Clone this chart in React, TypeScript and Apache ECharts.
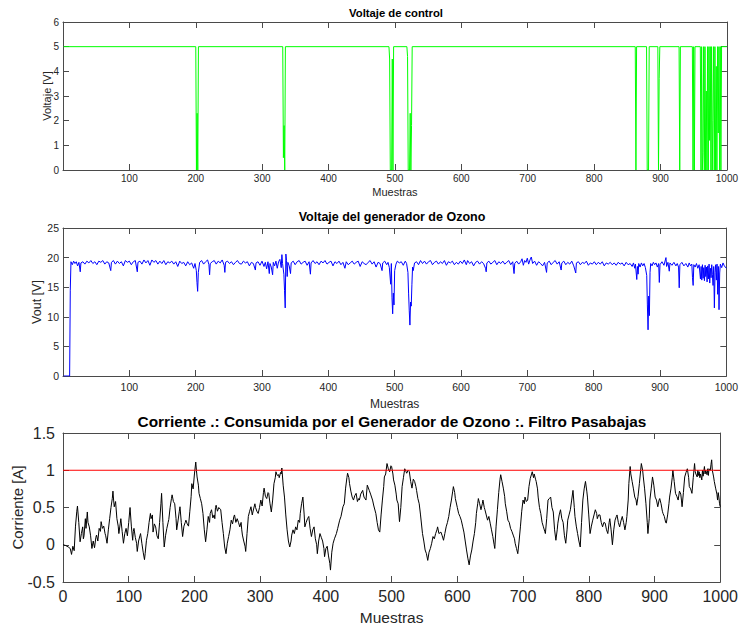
import React, { useEffect, useRef } from "react";
import * as echarts from "echarts";

const FONT = "'Liberation Sans', Arial, Helvetica, sans-serif";

const titles = [
  "Voltaje de control",
  "Voltaje del generador de Ozono",
  "Corriente .: Consumida por el Generador de Ozono :. Filtro Pasabajas",
];
const yNames = ["Voltaje [V]", "Vout [V]", "Corriente [A]"];
const xName = "Muestras";

const xTicks = [0, 100, 200, 300, 400, 500, 600, 700, 800, 900, 1000];
const yTicksControl = [0, 1, 2, 3, 4, 5, 6];
const yTicksVout = [0, 5, 10, 15, 20, 25];
const yTicksCurrent = [-0.5, 0, 0.5, 1, 1.5];

const currentLimit = 1;

const controlPoints: number[][] = [
  [1, 5], [200, 5], [201, 0], [202, 2.3], [203, 0], [204, 5],
  [331, 5], [332, 0.5], [333, 1.8], [334, 0], [335, 5],
  [491, 5], [492, 4.5], [493, 0], [495, 0], [496, 4.5], [497, 0], [498, 5],
  [518, 5], [519, 4.6], [520, 0], [522, 0], [523, 2.3], [524, 0], [525, 1.8], [526, 5],
  [862, 5], [863, 0], [864, 5],
  [879, 5], [880, 0], [882, 0], [883, 5],
  [896, 5], [897, 0], [898, 3.7], [899, 5],
  [928, 5], [929, 0], [930, 5],
  [948, 5], [949, 0], [950, 5], [951, 0], [952, 5],
  [960, 5], [961, 0], [962, 5], [963, 0], [964, 0.7], [965, 5], [966, 0], [967, 5],
  [968, 0], [969, 3.2], [970, 0], [971, 5], [972, 0], [973, 5], [974, 1.2], [975, 5],
  [976, 0], [977, 5], [978, 0], [979, 2], [980, 5], [981, 0], [982, 5], [983, 0],
  [984, 4.2], [985, 0], [986, 5], [987, 1.5], [988, 5], [989, 0], [990, 5], [991, 0],
  [992, 5], [1000, 5],
];

const voutPoints: number[][] = [
  [1, 0], [10, 0], [11, 14.5], [12, 19.3], [14, 18.8], [16, 19.4], [18, 19], [20, 19.3],
  [22, 18.6], [24, 19.2], [26, 17.6], [27, 19.1], [30, 19.3], [33, 18.9], [36, 19.4],
  [39, 19.1], [42, 19.5], [45, 19], [48, 19.3], [51, 18.8], [54, 19.4], [57, 19.2],
  [60, 19.5], [63, 18.9], [66, 19.3], [69, 19.1], [72, 17.8], [73, 19.2], [76, 19.5],
  [79, 18.9], [82, 19.4], [85, 19], [88, 19.3], [91, 18.6], [94, 19.5], [97, 19.2],
  [100, 19.4], [103, 18.8], [106, 19.3], [109, 19.5], [112, 17.6], [113, 19.2],
  [116, 19.4], [119, 18.9], [122, 19.6], [125, 19.1], [128, 19.5], [131, 18.7],
  [134, 19.6], [137, 19.2], [140, 19.5], [143, 18.9], [146, 19.4], [149, 19],
  [152, 19.5], [155, 18.8], [158, 19.3], [161, 19.1], [164, 19.4], [167, 18.9],
  [170, 19.3], [173, 18.5], [176, 19.4], [179, 19], [182, 19.2], [185, 18.6],
  [188, 19.3], [191, 18.8], [194, 19.1], [197, 18.2], [199, 19], [201, 17.8],
  [202, 15.8], [203, 14.3], [204, 17.5], [206, 19.2], [209, 19.5], [212, 18.9],
  [215, 19.3], [218, 19.6], [220, 18.8], [221, 17.1], [222, 19], [225, 19.3],
  [228, 19.5], [231, 18.9], [234, 19.4], [237, 19.1], [240, 19.6], [243, 18.7],
  [244, 17.5], [245, 19.2], [248, 19.4], [251, 19], [254, 19.3], [257, 18.8],
  [260, 19.2], [263, 19.5], [266, 19], [269, 18.9], [272, 19.4], [275, 19.1],
  [278, 19.3], [281, 18.6], [284, 19.2], [287, 19], [290, 17.9], [291, 19.1],
  [294, 19.3], [297, 18.7], [300, 19.4], [303, 18.5], [305, 19.2], [307, 18.1],
  [309, 19.3], [311, 17.3], [312, 19], [314, 18.4], [316, 17.1], [317, 19.2],
  [319, 18.6], [321, 19.4], [323, 18.2], [325, 19.3], [327, 19.7], [329, 18.3],
  [330, 20.5], [331, 19], [333, 17.2], [334, 14.4], [335, 11.5], [336, 20.6],
  [337, 19.5], [338, 16.8], [339, 19.2], [341, 18.6], [343, 17.3], [344, 19.1],
  [347, 19.4], [350, 18.8], [353, 19.3], [356, 19.5], [359, 18.9], [362, 19.2],
  [365, 19.4], [368, 18.7], [371, 19.3], [373, 17.2], [374, 19.1], [377, 19.5],
  [380, 19], [383, 19.3], [386, 18.8], [389, 19.4], [392, 19.1], [395, 19.5],
  [398, 18.9], [401, 19.2], [404, 19.4], [407, 18.6], [410, 19.3], [413, 19],
  [416, 19.4], [419, 18.8], [422, 19.2], [425, 18.2], [427, 19.3], [430, 18.8],
  [433, 19.1], [436, 19.4], [439, 18.9], [442, 19.2], [445, 19.4], [448, 18.5],
  [451, 19.3], [454, 19], [457, 18.8], [460, 19.2], [463, 19.5], [466, 18.9],
  [469, 19.3], [472, 18.4], [475, 19.2], [478, 19], [481, 17.8], [482, 19.1],
  [485, 19.4], [488, 18.8], [490, 19.2], [492, 18.3], [494, 15.5], [495, 19],
  [496, 13.2], [497, 10.5], [498, 14], [499, 12], [500, 17.8], [502, 18.9],
  [504, 19.4], [507, 19.1], [510, 19.3], [513, 18.7], [516, 19.4], [518, 19],
  [520, 17.5], [521, 14], [522, 11], [523, 8.6], [524, 12.5], [525, 11.8],
  [526, 15.5], [527, 18.4], [528, 17.8], [530, 19.1], [533, 19.3], [536, 18.8],
  [539, 19.5], [542, 19], [545, 19.4], [548, 18.9], [551, 19.3], [554, 19.5],
  [557, 18.8], [560, 19.2], [563, 19.4], [566, 18.9], [569, 19.3], [572, 19],
  [575, 19.5], [578, 18.7], [581, 19.3], [584, 19.1], [587, 19.4], [590, 18.8],
  [593, 19.2], [596, 18.9], [599, 19.4], [602, 19], [605, 19.6], [608, 18.8],
  [610, 19.5], [613, 19], [616, 19.3], [619, 18.6], [622, 19.2], [625, 19.4],
  [628, 18.9], [631, 19.3], [634, 19], [637, 18.2], [638, 17.6], [639, 19.1],
  [642, 19.4], [645, 18.9], [648, 19.2], [651, 19.5], [654, 18.8], [657, 19.3],
  [660, 19], [663, 19.4], [666, 18.9], [669, 19.2], [672, 19.5], [675, 18.8],
  [678, 19.3], [680, 17.3], [681, 19], [684, 19.4], [687, 18.9], [690, 19.3],
  [692, 19.8], [694, 18.7], [696, 19.5], [698, 19.2], [700, 19.9], [702, 18.9],
  [704, 19.6], [706, 20.1], [708, 19], [711, 19.4], [714, 18.7], [717, 19.3],
  [720, 19], [723, 18.6], [726, 19.2], [729, 17.5], [730, 19.1], [733, 19.4],
  [736, 18.8], [739, 19.2], [742, 19.5], [745, 18.9], [748, 19.3], [751, 17.9],
  [752, 19.1], [755, 19.4], [758, 18.8], [761, 19.2], [764, 18.9], [767, 19.4],
  [770, 18.6], [773, 17.4], [774, 19.1], [777, 19.3], [780, 18.8], [783, 19.2],
  [786, 19], [789, 19.4], [792, 18.7], [795, 19.1], [798, 18.9], [801, 19.3],
  [804, 18.8], [807, 19.2], [810, 18.9], [813, 19.3], [816, 18.6], [819, 19.1],
  [822, 18.9], [825, 19.2], [828, 18.8], [831, 19.1], [834, 18.7], [837, 19.2],
  [840, 18.9], [843, 19.1], [846, 18.6], [849, 19.2], [852, 18.8], [855, 19],
  [858, 18.5], [860, 19.1], [862, 18.2], [863, 18.9], [865, 16.3], [866, 18.5],
  [867, 17.2], [868, 19], [870, 18.4], [872, 19.1], [874, 18.6], [876, 19],
  [878, 18.3], [880, 17], [881, 12], [882, 7.8], [883, 13.5], [884, 10.2],
  [885, 17.5], [886, 19], [888, 18.6], [890, 19.2], [892, 18.8], [894, 19.1],
  [896, 18.4], [898, 19], [899, 15.8], [900, 18.8], [903, 19.3], [906, 18.7],
  [909, 20], [910, 18.5], [912, 19.2], [914, 17.7], [915, 19.1], [918, 18.7],
  [921, 19.2], [924, 18.6], [926, 19], [928, 18.4], [929, 14.9], [930, 18.8],
  [933, 19.2], [936, 18.6], [939, 19], [942, 18.4], [944, 19.1], [946, 18.6],
  [948, 18.9], [949, 16.6], [950, 15.3], [951, 18.8], [953, 18.4], [955, 19],
  [957, 18.2], [959, 18.8], [961, 16.4], [962, 18.5], [963, 16.2], [964, 18.8],
  [965, 16.5], [966, 18.3], [967, 16.1], [968, 18.7], [969, 16.8], [970, 18.4],
  [971, 15.9], [972, 18.6], [973, 16.4], [974, 18.9], [975, 15.7], [976, 18.2],
  [977, 16.6], [978, 18.8], [979, 17.1], [980, 15.3], [981, 18.5], [982, 11.5],
  [983, 17.5], [984, 18.8], [985, 16.2], [986, 18.9], [987, 13.8], [988, 18.5],
  [989, 11.2], [990, 17.4], [991, 18.9], [993, 18.3], [995, 19.1], [997, 18.6],
  [1000, 18.2],
];

const currentPoints: number[][] = [
  [0, 0], [4, -0.01], [8, -0.03], [11, -0.05], [13, -0.13], [15, -0.02], [17, -0.08],
  [19, 0.25], [21, 0.45], [22, 0.52], [24, 0.3], [26, 0.04], [28, 0.15], [30, 0.24],
  [31, 0.08], [32, 0.12], [34, 0.35], [35, 0.22], [37, 0.44], [38, 0.3], [40, 0.24],
  [42, 0.12], [44, -0.05], [46, 0.05], [48, -0.04], [50, 0.1], [51, 0.13], [53, 0.05],
  [55, 0.22], [57, 0.18], [58, 0.31], [60, 0.22], [62, 0.25], [64, 0.15], [65, 0.12],
  [67, 0.02], [69, 0.2], [71, 0.35], [73, 0.5], [75, 0.62], [76, 0.72], [77, 0.6],
  [78, 0.51], [80, 0.58], [82, 0.35], [84, 0.25], [85, 0.15], [87, 0.28], [88, 0.35],
  [90, 0.18], [92, 0.02], [94, 0.15], [96, 0.22], [98, 0.12], [100, 0.3], [102, 0.5],
  [104, 0.25], [106, 0.06], [107, 0.18], [108, 0.22], [110, 0.1], [112, 0.02],
  [113, -0.09], [115, 0.05], [117, 0.12], [118, 0.15], [120, 0.02], [122, -0.1],
  [124, -0.2], [125, -0.12], [127, 0.06], [129, 0.15], [131, 0.3], [133, 0.42],
  [134, 0.35], [136, 0.4], [137, 0.17], [139, 0.28], [141, 0.24], [143, 0.12],
  [145, 0.08], [147, 0.3], [149, 0.55], [150, 0.69], [152, 0.3], [154, -0.03],
  [156, 0.12], [158, 0.22], [160, 0.3], [161, 0.34], [163, 0.5], [165, 0.62],
  [166, 0.67], [168, 0.58], [170, 0.55], [172, 0.35], [173, 0.2], [175, 0.32],
  [177, 0.45], [178, 0.51], [180, 0.3], [182, 0.11], [184, 0.25], [186, 0.3],
  [187, 0.33], [189, 0.28], [191, 0.25], [193, 0.45], [195, 0.65], [196, 0.82],
  [198, 0.75], [200, 0.95], [202, 1.11], [203, 1.0], [204, 0.91], [206, 0.8],
  [207, 0.69], [209, 0.62], [211, 0.55], [213, 0.42], [215, 0.2], [217, 0.04],
  [219, 0.2], [221, 0.38], [223, 0.3], [224, 0.42], [226, 0.47], [228, 0.36],
  [230, 0.4], [231, 0.35], [232, 0.5], [233, 0.53], [235, 0.45], [237, 0.5],
  [240, 0.47], [242, 0.3], [244, 0.15], [246, -0.03], [248, -0.12], [250, 0.02],
  [252, 0.11], [254, 0.2], [256, 0.33], [258, 0.28], [260, 0.38], [261, 0.4],
  [263, 0.3], [265, 0.35], [267, 0.3], [269, 0.24], [271, 0.3], [272, 0.2],
  [273, 0.13], [275, 0.05], [277, -0.02], [278, -0.09], [280, 0.15], [282, 0.38],
  [284, 0.45], [286, 0.51], [288, 0.4], [290, 0.48], [292, 0.55], [293, 0.5],
  [295, 0.45], [297, 0.42], [299, 0.5], [301, 0.6], [303, 0.52], [305, 0.7],
  [306, 0.76], [308, 0.65], [310, 0.62], [312, 0.7], [313, 0.69], [315, 0.55],
  [317, 0.44], [319, 0.6], [321, 0.82], [323, 0.9], [324, 0.98], [326, 0.93],
  [328, 0.94], [329, 0.9], [331, 0.97], [332, 0.95], [333, 1.03], [335, 0.8],
  [337, 0.64], [339, 0.4], [341, 0.2], [343, 0.05], [345, -0.03], [347, 0.05],
  [348, 0.13], [350, 0.2], [352, 0.15], [354, 0.24], [356, 0.2], [358, 0.33],
  [360, 0.3], [361, 0.42], [363, 0.55], [365, 0.64], [367, 0.4], [368, 0.24],
  [370, 0.3], [372, 0.35], [374, 0.38], [376, 0.22], [378, 0.11], [380, 0.2],
  [382, 0.24], [384, 0.08], [386, 0.0], [387, -0.12], [389, 0.05], [391, 0.15],
  [393, 0.1], [395, 0.05], [397, -0.05], [398, -0.16], [400, -0.05], [402, -0.02],
  [404, -0.15], [406, -0.25], [407, -0.34], [409, -0.1], [411, 0.02], [413, 0.08],
  [416, 0.15], [418, 0.22], [421, 0.33], [423, 0.38], [426, 0.51], [428, 0.55],
  [430, 0.76], [432, 0.9], [433, 0.96], [435, 0.9], [436, 0.82], [438, 0.72],
  [440, 0.64], [442, 0.6], [444, 0.66], [446, 0.69], [448, 0.58], [450, 0.62],
  [451, 0.6], [453, 0.68], [456, 0.73], [458, 0.64], [461, 0.6], [463, 0.8],
  [466, 0.73], [468, 0.68], [471, 0.6], [473, 0.52], [476, 0.42], [478, 0.3],
  [480, 0.2], [482, 0.17], [484, 0.4], [486, 0.6], [488, 0.78], [489, 0.91],
  [491, 0.95], [493, 1.09], [495, 1.02], [497, 0.98], [499, 1.06], [500, 1.05],
  [502, 0.95], [503, 0.87], [505, 0.8], [507, 0.68], [508, 0.6], [510, 0.55],
  [512, 0.31], [514, 0.5], [516, 0.78], [518, 0.9], [520, 1.02], [522, 0.98],
  [523, 0.96], [525, 1.0], [527, 0.98], [529, 0.85], [531, 0.76], [533, 0.88],
  [535, 0.85], [537, 0.78], [538, 0.73], [540, 0.62], [542, 0.55], [544, 0.4],
  [547, 0.15], [549, 0.05], [551, -0.07], [553, -0.12], [555, -0.21], [557, -0.1],
  [559, -0.05], [561, 0.02], [563, 0.11], [565, 0.08], [567, 0.15], [569, 0.2],
  [570, 0.24], [572, 0.15], [575, 0.17], [577, 0.12], [579, 0.06], [581, 0.15],
  [583, 0.24], [585, 0.3], [587, 0.38], [589, 0.5], [591, 0.6], [593, 0.72],
  [594, 0.78], [596, 0.7], [597, 0.62], [600, 0.5], [602, 0.42], [604, 0.38],
  [606, 0.33], [608, 0.25], [610, 0.17], [612, 0.05], [614, -0.07], [616, -0.18],
  [618, -0.27], [620, -0.15], [622, -0.07], [624, 0.05], [626, 0.15], [628, 0.3],
  [629, 0.42], [631, 0.55], [632, 0.62], [634, 0.55], [636, 0.47], [638, 0.55],
  [639, 0.6], [641, 0.5], [642, 0.47], [644, 0.4], [646, 0.33], [648, 0.38],
  [650, 0.29], [652, 0.2], [654, 0.11], [656, 0.0], [657, -0.05], [659, 0.25],
  [661, 0.47], [663, 0.7], [665, 0.88], [666, 0.94], [668, 0.85], [670, 0.76],
  [672, 0.65], [673, 0.55], [675, 0.45], [677, 0.33], [679, 0.3], [681, 0.22],
  [683, 0.18], [685, 0.13], [687, 0.08], [688, 0.02], [690, -0.05], [692, -0.12],
  [694, 0.05], [696, 0.24], [698, 0.45], [700, 0.6], [702, 0.55], [703, 0.64],
  [705, 0.58], [707, 0.6], [709, 0.78], [711, 0.89], [713, 0.95], [714, 0.98],
  [716, 0.9], [717, 0.95], [719, 0.88], [720, 0.85], [722, 0.75], [723, 0.64],
  [725, 0.5], [727, 0.42], [729, 0.3], [731, 0.24], [733, 0.18], [734, 0.15],
  [736, 0.35], [738, 0.6], [740, 0.62], [742, 0.64], [744, 0.5], [746, 0.44],
  [748, 0.2], [750, 0.06], [752, 0.2], [753, 0.29], [755, 0.4], [757, 0.47],
  [759, 0.35], [761, 0.3], [763, 0.12], [765, 0.02], [767, 0.2], [768, 0.33],
  [770, 0.4], [772, 0.47], [774, 0.6], [776, 0.73], [778, 0.5], [779, 0.38],
  [781, 0.25], [783, 0.15], [785, 0.05], [787, -0.03], [789, 0.3], [791, 0.6],
  [793, 0.75], [795, 0.85], [797, 0.72], [798, 0.64], [800, 0.4], [802, 0.15],
  [804, 0.25], [806, 0.33], [808, 0.4], [810, 0.47], [812, 0.42], [813, 0.35],
  [815, 0.4], [817, 0.4], [819, 0.3], [821, 0.24], [823, 0.3], [825, 0.29],
  [827, 0.2], [829, 0.15], [831, 0.3], [832, 0.35], [834, 0.2], [836, 0.0],
  [838, 0.2], [840, 0.33], [842, 0.38], [843, 0.4], [845, 0.3], [847, 0.24],
  [849, 0.32], [851, 0.38], [853, 0.3], [855, 0.2], [857, 0.3], [858, 0.38],
  [860, 0.6], [861, 0.82], [863, 1.05], [864, 0.95], [866, 0.85], [868, 0.75],
  [870, 0.64], [872, 0.6], [873, 0.53], [875, 0.65], [877, 0.82], [879, 1.0],
  [880, 1.09], [882, 1.0], [883, 0.91], [885, 0.75], [887, 0.55], [889, 0.3],
  [890, 0.15], [892, 0.35], [893, 0.6], [895, 0.75], [897, 0.91], [899, 0.8],
  [901, 0.64], [903, 0.6], [905, 0.51], [907, 0.6], [908, 0.62], [910, 0.55],
  [912, 0.45], [913, 0.42], [915, 0.38], [917, 0.3], [918, 0.29], [920, 0.4],
  [922, 0.55], [923, 0.64], [925, 0.75], [927, 0.9], [928, 1.0], [930, 0.85],
  [932, 0.69], [934, 0.65], [936, 0.6], [938, 0.72], [940, 0.68], [941, 0.6],
  [942, 0.51], [944, 0.7], [946, 0.91], [948, 0.97], [950, 1.02], [952, 0.9],
  [953, 0.78], [955, 0.75], [957, 0.69], [959, 0.9], [961, 1.09], [962, 0.98],
  [963, 0.95], [965, 0.91], [966, 1.0], [967, 0.93], [968, 0.98], [969, 0.9],
  [970, 0.95], [972, 0.87], [973, 1.0], [974, 0.92], [976, 1.05], [977, 0.95],
  [978, 1.0], [980, 0.94], [981, 1.02], [982, 0.93], [983, 1.02], [985, 1.0],
  [986, 1.08], [987, 1.14], [988, 1.0], [990, 0.91], [991, 0.85], [993, 0.76],
  [995, 0.68], [996, 0.6], [997, 0.7], [998, 0.64], [999, 0.55], [1000, 0.51],
];

const AXIS = "#4a4a4a";
const LABEL = "#262626";

const grids = [
  { left: 63, right: 12, top: 22, height: 148 },
  { left: 63, right: 12, top: 228, height: 148 },
  { left: 63, right: 12, top: 433, height: 149 },
];

type Cfg = {
  yTicks: number[];
  tickFont: number;
  xMargin: number;
  yMargin: number;
  nameFont: number;
  xNameGap: number;
  yNameFont: number;
  yNameGap: number;
  showZero: boolean;
};

const cfgs: Cfg[] = [
  { yTicks: yTicksControl, tickFont: 10, xMargin: 3, yMargin: 4, nameFont: 11, xNameGap: 16, yNameFont: 11, yNameGap: 11, showZero: false },
  { yTicks: yTicksVout, tickFont: 10.5, xMargin: 5, yMargin: 4, nameFont: 12, xNameGap: 22, yNameFont: 12.5, yNameGap: 20, showZero: false },
  { yTicks: yTicksCurrent, tickFont: 16, xMargin: 6, yMargin: 8, nameFont: 15.5, xNameGap: 27, yNameFont: 15, yNameGap: 38, showZero: true },
];

function buildAxes() {
  const xAxis: any[] = [];
  const yAxis: any[] = [];
  cfgs.forEach((c, i) => {
    const xMin = xTicks[0];
    const xMax = xTicks[xTicks.length - 1];
    const xInt = xTicks[1] - xTicks[0];
    const yMin = c.yTicks[0];
    const yMax = c.yTicks[c.yTicks.length - 1];
    const yInt = c.yTicks[1] - c.yTicks[0];
    const line = { show: true, lineStyle: { color: AXIS, width: 1 } };
    const tick = { show: true, inside: true, length: 6, lineStyle: { color: AXIS, width: 1 } };
    xAxis.push({
      type: "value", gridIndex: i, position: "bottom", min: xMin, max: xMax, interval: xInt,
      axisLine: { ...line, onZero: false }, axisTick: tick, splitLine: { show: false },
      axisLabel: {
        margin: c.xMargin, fontSize: c.tickFont, fontFamily: FONT, color: LABEL,
        showMinLabel: true, showMaxLabel: true,
        formatter: (v: number) => (v === 0 && !c.showZero ? "" : String(v)),
      },
      name: xName, nameLocation: "middle", nameGap: c.xNameGap, nameMoveOverlap: false,
      nameTextStyle: { fontSize: c.nameFont, fontFamily: FONT, color: LABEL },
    });
    xAxis.push({
      type: "value", gridIndex: i, position: "top", min: xMin, max: xMax, interval: xInt,
      axisLine: { ...line, onZero: false }, axisTick: tick, splitLine: { show: false },
      axisLabel: { show: false },
    });
    yAxis.push({
      type: "value", gridIndex: i, position: "left", min: yMin, max: yMax, interval: yInt,
      axisLine: { ...line, onZero: false }, axisTick: tick, splitLine: { show: false },
      axisLabel: { margin: c.yMargin, fontSize: c.tickFont, fontFamily: FONT, color: LABEL, showMinLabel: true, showMaxLabel: true },
      name: yNames[i], nameLocation: "middle", nameGap: c.yNameGap, nameMoveOverlap: false,
      nameTextStyle: { fontSize: c.yNameFont, fontFamily: FONT, color: LABEL },
    });
    yAxis.push({
      type: "value", gridIndex: i, position: "right", min: yMin, max: yMax, interval: yInt,
      axisLine: { ...line, onZero: false }, axisTick: tick, splitLine: { show: false },
      axisLabel: { show: false },
    });
  });
  return { xAxis, yAxis };
}

export default function App() {
  const ref = useRef<HTMLDivElement>(null);
  useEffect(() => {
    if (!ref.current) return;
    const chart = echarts.init(ref.current, null, { renderer: "svg" });
    const { xAxis, yAxis } = buildAxes();
    const lineBase = { type: "line", showSymbol: false, symbol: "none", silent: true, z: 2 };
    const option: any = {
      animation: false,
      backgroundColor: "#ffffff",
      grid: grids,
      xAxis,
      yAxis,
      graphic: [
        { type: "text", x: 396, y: 12.5, silent: true, style: { text: titles[0], align: "center", verticalAlign: "middle", fontSize: 11.3, fontWeight: "bold", fontFamily: FONT, fill: "#000" } },
        { type: "text", x: 392, y: 217, silent: true, style: { text: titles[1], align: "center", verticalAlign: "middle", fontSize: 12.5, fontWeight: "bold", fontFamily: FONT, fill: "#000" } },
        { type: "text", x: 392, y: 421.5, silent: true, style: { text: titles[2], align: "center", verticalAlign: "middle", fontSize: 15.4, fontWeight: "bold", fontFamily: FONT, fill: "#000" } },
      ],
      series: [
        { ...lineBase, name: "control", xAxisIndex: 0, yAxisIndex: 0, data: controlPoints, lineStyle: { color: "#00ff00", width: 1 } },
        { ...lineBase, name: "vout", xAxisIndex: 2, yAxisIndex: 2, data: voutPoints, lineStyle: { color: "#0000ff", width: 1 } },
        { ...lineBase, name: "corriente", xAxisIndex: 4, yAxisIndex: 4, data: currentPoints, lineStyle: { color: "#000000", width: 1 } },
        { ...lineBase, name: "limite", xAxisIndex: 4, yAxisIndex: 4, data: [[xTicks[0], currentLimit], [xTicks[xTicks.length - 1], currentLimit]], lineStyle: { color: "#ff0000", width: 1 }, z: 3 },
      ],
    };
    chart.setOption(option);
    return () => chart.dispose();
  }, []);
  return (
    <div
      ref={ref}
      style={{ position: "absolute", left: 0, top: 0, width: 741, height: 629, background: "#fff" }}
    />
  );
}
